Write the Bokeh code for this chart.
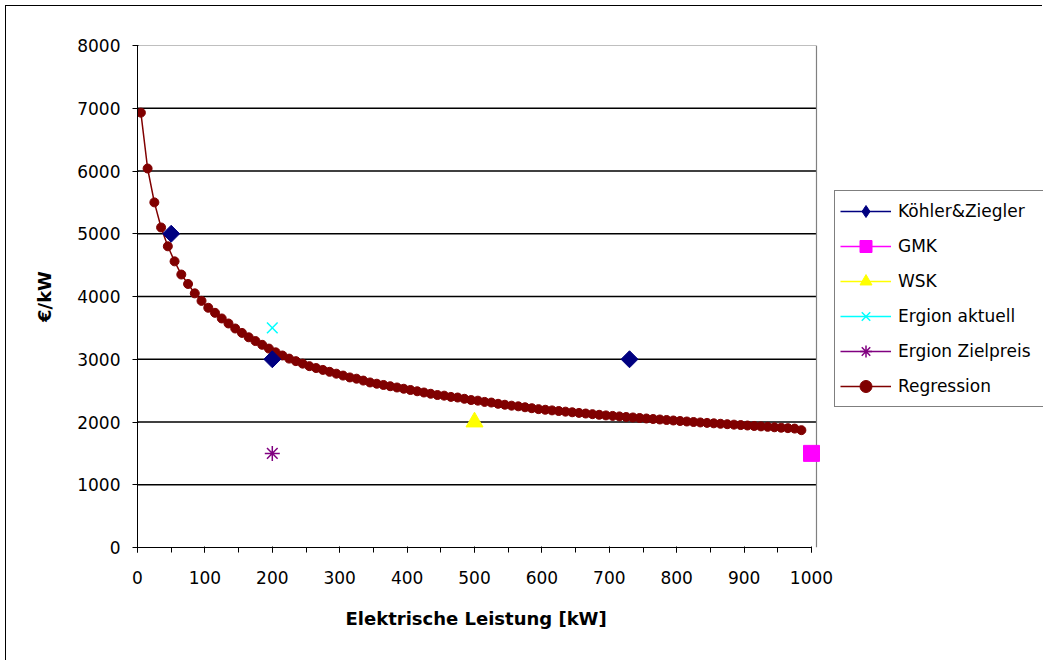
import math
from bokeh.plotting import figure
from bokeh.models import Range1d, SingleIntervalTicker, Legend, LegendItem, Title
from bokeh.embed import file_html
from bokeh.resources import INLINE

# ---- data ----
kz_x = [50, 200, 730]
kz_y = [5000, 3000, 3000]
gmk_x = [1000]
gmk_y = [1500]
wsk_x = [500]
wsk_y = [2000]
akt_x = [200]
akt_y = [3500]
ziel_x = [200]
ziel_y = [1500]

reg_x = [5, 15, 25, 35, 45, 55, 65, 75, 85, 95, 105, 115, 125, 135, 145, 155, 165, 175, 185, 195,
         205, 215, 225, 235, 245, 255, 265, 275, 285, 295, 305, 315, 325, 335, 345, 355, 365, 375, 385, 395,
         405, 415, 425, 435, 445, 455, 465, 475, 485, 495, 505, 515, 525, 535, 545, 555, 565, 575, 585, 595,
         605, 615, 625, 635, 645, 655, 665, 675, 685, 695, 705, 715, 725, 735, 745, 755, 765, 775, 785, 795,
         805, 815, 825, 835, 845, 855, 865, 875, 885, 895, 905, 915, 925, 935, 945, 955, 965, 975, 985]
reg_y = [6930, 6040, 5500, 5100, 4800, 4560, 4350, 4200, 4050, 3930, 3820, 3740, 3650, 3570, 3490, 3420, 3350, 3290, 3230, 3170,
         3110, 3060, 3010, 2970, 2930, 2890, 2860, 2830, 2800, 2770, 2740, 2710, 2690, 2660, 2630, 2610, 2590, 2570, 2550, 2530,
         2510, 2490, 2470, 2450, 2430, 2420, 2400, 2390, 2370, 2350, 2340, 2320, 2310, 2290, 2275, 2260, 2250, 2235, 2220, 2205,
         2195, 2185, 2175, 2165, 2155, 2145, 2135, 2125, 2115, 2105, 2097, 2089, 2080, 2072, 2064, 2056, 2048, 2040, 2032, 2024,
         2016, 2008, 2000, 1993, 1986, 1979, 1972, 1965, 1958, 1951, 1944, 1937, 1930, 1923, 1916, 1909, 1902, 1895, 1870]

series_names = ["Köhler&Ziegler", "GMK", "WSK", "Ergion aktuell", "Ergion Zielpreis", "Regression"]
x_title = "Elektrische Leistung [kW]"
y_title = "€/kW"
x_axis_end = 1000
y_axis_end = 8000
x_ticks_interval = 100
y_ticks_interval = 1000
y_grid_values = [1000, 2000, 3000, 4000, 5000, 6000, 7000]

# layout constants (pixels)
FRAME_W = 906          # frame runs to the right page edge so the legend is not clipped
PX_PER_1000 = 674      # 0..1000 spans 674 px as in the reference
AREA_RIGHT = 1007.4    # right border of the plot area (data units)
x_view_end = 1000 * FRAME_W / PX_PER_1000

p = figure(width=1037, height=655, output_backend="svg", toolbar_location=None,
           x_range=Range1d(0, x_view_end), y_range=Range1d(0, y_axis_end),
           min_border_left=131, min_border_right=0, min_border_top=39, min_border_bottom=114)
p.background_fill_color = "white"
p.border_fill_color = "white"
p.outline_line_color = None
p.xgrid.visible = False
p.ygrid.visible = False

# horizontal grid lines and plot-area border, limited to the plot area
p.segment(x0=[0] * len(y_grid_values), y0=y_grid_values,
          x1=[AREA_RIGHT] * len(y_grid_values), y1=y_grid_values,
          line_color="black", line_width=1.3, level="underlay")
p.segment(x0=[0, AREA_RIGHT], y0=[y_axis_end, 0], x1=[AREA_RIGHT, AREA_RIGHT], y1=[y_axis_end, y_axis_end],
          line_color="#808080", line_width=1.2, level="underlay")

p.xaxis.ticker = SingleIntervalTicker(interval=x_ticks_interval, num_minor_ticks=2)
p.yaxis.ticker = SingleIntervalTicker(interval=y_ticks_interval, num_minor_ticks=0)
p.xaxis.bounds = (0, x_axis_end)

for ax in (p.xaxis[0], p.yaxis[0]):
    ax.axis_line_color = "black"
    ax.major_tick_line_color = "black"
    ax.minor_tick_line_color = "black"
    ax.major_tick_out = 5
    ax.major_tick_in = 1
    ax.minor_tick_out = 5
    ax.minor_tick_in = 0
    ax.major_label_text_color = "black"
    ax.major_label_text_font = "DejaVu Sans"
    ax.major_label_text_font_size = "17px"
    ax.axis_label_text_color = "black"
    ax.axis_label_text_font = "DejaVu Sans"
    ax.axis_label_text_font_size = "18px"
    ax.axis_label_text_font_style = "bold"

p.xaxis.major_label_standoff = 18

p.yaxis.major_label_standoff = 12
p.yaxis.axis_label = y_title
p.yaxis.axis_label_standoff = 19

# x-axis title centred under the 0..1000 axis (the frame itself runs on under the legend)
xt = Title(text=x_title, align="left", offset=208, standoff=39,
           text_font="DejaVu Sans", text_font_size="18px", text_font_style="bold", text_color="black")
p.add_layout(xt, "below")

# regression
reg_line = p.line(reg_x, reg_y, line_color="#800000", line_width=1.5)
reg_pts = p.scatter(reg_x, reg_y, marker="circle", size=9, fill_color="#800000", line_color="#800000")

# measured points
kz = p.scatter(kz_x, kz_y, marker="square", angle=math.pi / 4, size=12, fill_color="#000080", line_color="#000080")
gmk = p.scatter(gmk_x, gmk_y, marker="square", size=16, fill_color="#FF00FF", line_color="#FF00FF")
wsk = p.scatter(wsk_x, wsk_y, marker="triangle", size=17, fill_color="#FFFF00", line_color="#FFFF00")
akt = p.scatter(akt_x, akt_y, marker="x", size=15, line_color="#00FFFF", line_width=1.5)
ziel = p.scatter(ziel_x, ziel_y, marker="asterisk", size=15, line_color="#800080", line_width=1.5)

# legend-only glyphs (hidden in the plot): a line through each series, Excel-style
def hidden_line(xs, ys, color):
    r = p.line(xs, ys, line_color=color, line_width=1.5)
    r.visible = False
    return r

kz_l = hidden_line(kz_x, kz_y, "#000080")
kz_leg = p.scatter(kz_x, kz_y, marker="diamond", size=14, fill_color="#000080", line_color="#000080")
kz_leg.visible = False
gmk_l = hidden_line(gmk_x, gmk_y, "#FF00FF")
wsk_l = hidden_line(wsk_x, wsk_y, "#FFFF00")
akt_l = hidden_line(akt_x, akt_y, "#00FFFF")
ziel_l = hidden_line(ziel_x, ziel_y, "#800080")

items = [
    LegendItem(label=series_names[0], renderers=[kz_l, kz_leg]),
    LegendItem(label=series_names[1], renderers=[gmk_l, gmk]),
    LegendItem(label=series_names[2], renderers=[wsk_l, wsk]),
    LegendItem(label=series_names[3], renderers=[akt_l, akt]),
    LegendItem(label=series_names[4], renderers=[ziel_l, ziel]),
    LegendItem(label=series_names[5], renderers=[reg_line, reg_pts]),
]
legend = Legend(items=items, location=(697, 140), orientation="vertical")
legend.glyph_width = 51
legend.glyph_height = 30
legend.label_height = 30
legend.label_width = 190
legend.spacing = 5
legend.padding = 5
legend.margin = 0
legend.label_standoff = 7
legend.label_text_font = "DejaVu Sans"
legend.label_text_font_size = "17px"
legend.label_text_color = "black"
legend.border_line_color = "black"
legend.border_line_width = 1
legend.background_fill_color = "white"
legend.background_fill_alpha = 1
legend.inactive_fill_alpha = 0
legend.click_policy = "none"
p.add_layout(legend, "center")

p.styles = {"margin-left": "5px", "margin-top": "5px",
            "border-left": "1px solid black", "border-top": "1px solid black"}

open("out.html", "w").write(file_html(p, INLINE))
